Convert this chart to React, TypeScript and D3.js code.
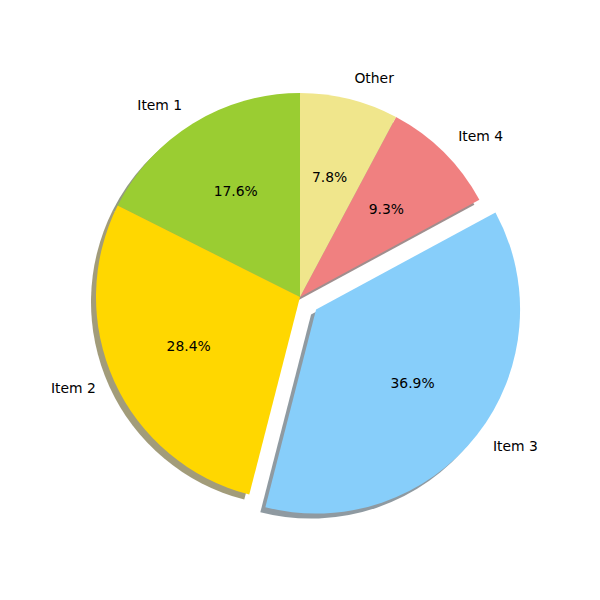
import * as d3 from 'd3'

const labels = ['Item 1', 'Item 2', 'Item 3', 'Item 4', 'Other']
const values = [17.6, 28.4, 36.9, 9.3, 7.8]
const colors = ['#9ACD32', '#FFD700', '#87CEFA', '#F08080', '#F0E68C']
const explode = [0, 0, 0.1, 0, 0]

const W = 600
const H = 600
const cx = 300
const cy = 297
const R = 204

export default function App() {
  // counterclockwise from 12 o'clock, like matplotlib startangle=90
  const pie = d3.pie<number>().sort(null).startAngle(0).endAngle(-2 * Math.PI)
  const arcs = pie(values)
  const arc = d3.arc<d3.PieArcDatum<number>>().innerRadius(0).outerRadius(R)
  const total = d3.sum(values)

  const slices = arcs.map((a, i) => {
    const mid = (a.startAngle + a.endAngle) / 2
    const ux = Math.sin(mid)
    const uy = -Math.cos(mid)
    const ox = explode[i] * R * ux
    const oy = explode[i] * R * uy
    return { a, i, mid, ux, uy, ox, oy }
  })

  const shadowFill = (c: string) => {
    const rgb = d3.rgb(c)
    return d3.rgb(rgb.r * 0.3, rgb.g * 0.3, rgb.b * 0.3).toString()
  }

  return (
    <svg width={W} height={H} style={{ display: 'block', margin: -8 }}
      fontFamily="DejaVu Sans" fontSize={13.9}>
      <rect width={W} height={H} fill="white" />
      <g transform={`translate(${cx},${cy})`}>
        {slices.map(s => (
          <path key={'sh' + s.i} d={arc(s.a) ?? ''}
            transform={`translate(${s.ox - 5},${s.oy + 5})`}
            fill={shadowFill(colors[s.i])} fillOpacity={0.52} />
        ))}
        {slices.map(s => (
          <path key={'w' + s.i} d={arc(s.a) ?? ''}
            transform={`translate(${s.ox},${s.oy})`}
            fill={colors[s.i]} />
        ))}
        {slices.map(s => (
          <text key={'l' + s.i}
            x={s.ox + 1.1 * R * s.ux} y={s.oy + 1.1 * R * s.uy - 1.5}
            textAnchor={s.ux > 0 ? 'start' : 'end'} dominantBaseline="central">
            {labels[s.i]}
          </text>
        ))}
        {slices.map(s => (
          <text key={'p' + s.i}
            x={s.ox + 0.6 * R * s.ux} y={s.oy + 0.6 * R * s.uy - 1.5}
            textAnchor="middle" dominantBaseline="central">
            {(values[s.i] / total * 100).toFixed(1) + '%'}
          </text>
        ))}
      </g>
    </svg>
  )
}
